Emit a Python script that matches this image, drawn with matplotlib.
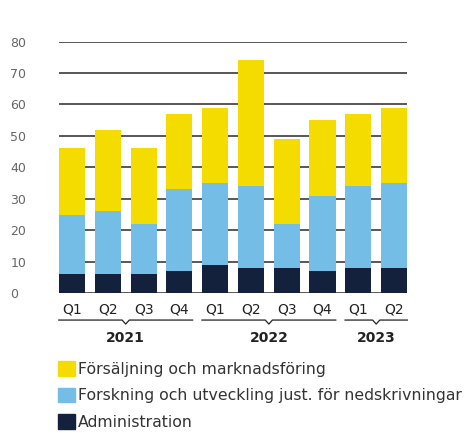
import matplotlib
matplotlib.use("Agg")
import matplotlib.pyplot as plt
import matplotlib.transforms as mtransforms
from matplotlib.patches import Patch

# data (MSEK per quarter)
quarters = ["Q1", "Q2", "Q3", "Q4", "Q1", "Q2", "Q3", "Q4", "Q1", "Q2"]
years = ["2021", "2022", "2023"]
year_spans = [(0, 3), (4, 7), (8, 9)]
administration = [6, 6, 6, 7, 9, 8, 8, 7, 8, 8]
forskning = [19, 20, 16, 26, 26, 26, 14, 24, 26, 27]
forsaljning = [21, 26, 24, 24, 24, 40, 27, 24, 23, 24]

labels = ["Försäljning och marknadsföring",
          "Forskning och utveckling just. för nedskrivningar",
          "Administration"]
c_yellow = "#F5DC00"
c_blue = "#74BDE7"
c_navy = "#14213D"

plt.rcParams['font.family'] = ['DejaVu Sans']

fig = plt.figure(figsize=(4.68, 4.33), dpi=100)
ax = fig.add_axes([0.126, 0.323, 0.744, 0.581])

x = list(range(len(quarters)))
w = 0.73
bottom2 = [a + b for a, b in zip(administration, forskning)]
ax.bar(x, administration, w, color=c_navy, zorder=3)
ax.bar(x, forskning, w, bottom=administration, color=c_blue, zorder=3)
ax.bar(x, forsaljning, w, bottom=bottom2, color=c_yellow, zorder=3)

ax.set_xlim(-0.365, len(x) - 1 + 0.365)
ax.set_ylim(0, 80)
ax.set_yticks(range(0, 81, 10))
ax.yaxis.grid(True, color="#2a2a2a", linewidth=1.1)
ax.set_axisbelow(True)
for s in ax.spines.values():
    s.set_visible(False)
ax.tick_params(axis="y", length=0, labelsize=9, labelcolor="#666666", pad=35)
for lbl in ax.get_yticklabels():
    lbl.set_horizontalalignment("left")

ax.set_xticks(x)
ax.set_xticklabels(quarters, fontsize=10, color="#222222")
ax.tick_params(axis="x", length=0, pad=7)

# year brackets under the quarter labels
trans = mtransforms.blended_transform_factory(ax.transData, ax.transAxes)
by = -0.107
for yr, (i0, i1) in zip(years, year_spans):
    left = i0 - 0.37
    right = i1 + 0.37
    mid = (i0 + i1) / 2
    ax.plot([left, mid - 0.1, mid, mid + 0.1, right],
            [by, by, by - 0.016, by, by],
            transform=trans, color="#222222", linewidth=0.9, clip_on=False)
    ax.text(mid, by - 0.07, yr, transform=trans, ha="center", va="center",
            fontsize=10, fontweight="semibold", color="#222222")

handles = [Patch(color=c_yellow), Patch(color=c_blue), Patch(color=c_navy)]
fig.legend(handles, labels, loc="upper left", bbox_to_anchor=(0.124, 0.166),
           frameon=False, fontsize=11.3, handlelength=1.08, handleheight=1.08,
           handletextpad=0.2, labelspacing=0.68, labelcolor="#333333",
           borderaxespad=0, borderpad=0)

fig.savefig("out.png", dpi=100)
